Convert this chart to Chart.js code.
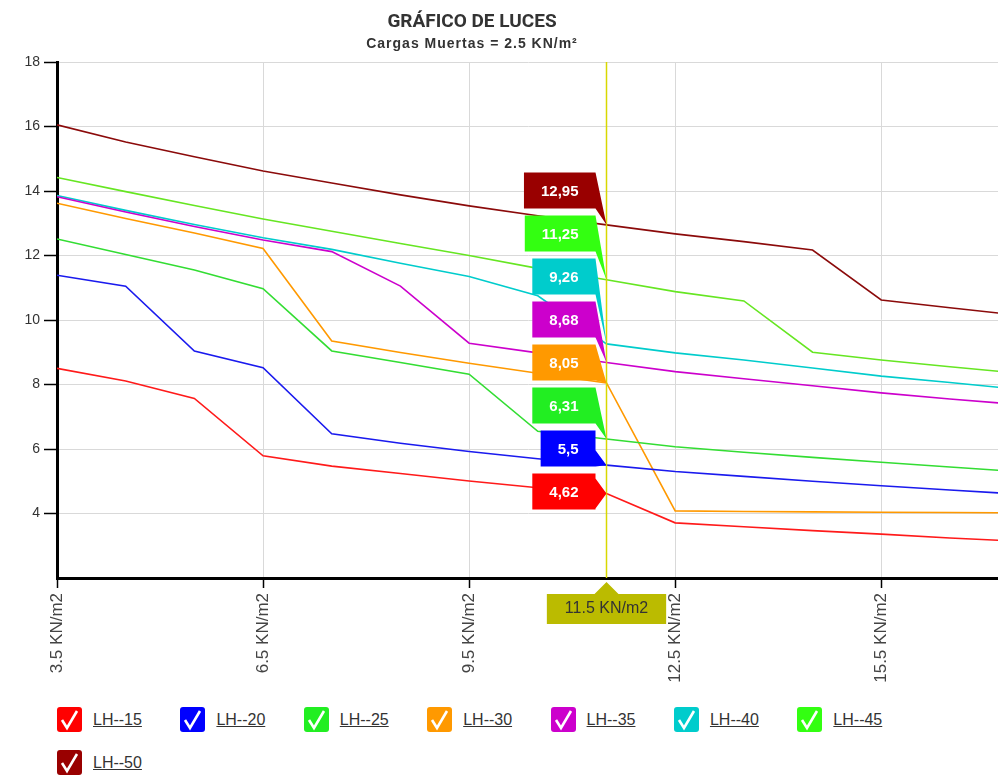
<!DOCTYPE html>
<html lang="es">
<head>
<meta charset="utf-8">
<title>Gráfico de luces</title>
<script src="https://cdn.jsdelivr.net/npm/chart.js@4.4.1/dist/chart.umd.min.js"></script>
<style>
  body { margin: 0; background: #fff; overflow: hidden; font-family: "Liberation Sans", Arial, sans-serif; }
  #wrap { position: relative; width: 998px; height: 776px; }
  #chart { position: absolute; left: 0; top: 0; }
  #title { position: absolute; left: 0; top: 9px; width: 944px; text-align: center;
           font: bold 19px Roboto, "Liberation Sans", sans-serif; color: #333; }
  #subtitle { position: absolute; left: 0; top: 35px; width: 944px; text-align: center;
              font-weight: bold; font-size: 14px; letter-spacing: 1px; color: #333; }
  #legend { position: absolute; left: 57px; top: 707px; width: 880px; display: flex; flex-wrap: wrap; }
  .item { width: 123.4px; height: 43px; display: flex; align-items: flex-start; }
  .box { width: 25px; height: 25px; border-radius: 3px; }
  .item span { margin-left: 11px; font-size: 16px; line-height: 25px; text-decoration: underline; color: #333; }
</style>
</head>
<body>
<div id="wrap">
  <canvas id="chart" width="998" height="700"></canvas>
  <div id="title"></div>
  <div id="subtitle"></div>
  <div id="legend"></div>
</div>
<script>
// ---------- Data ----------
const chartTitle = "GRÁFICO DE LUCES";
const chartSubtitle = "Cargas Muertas = 2.5 KN/m²";

// live load (KN/m2)
const loads = [3.5, 4.5, 5.5, 6.5, 7.5, 8.5, 9.5, 10.5, 11.5, 12.5, 13.5, 14.5, 15.5, 16.5, 17.5];
const crossLoad = 11.5;

const seriesNames = ["LH--15", "LH--20", "LH--25", "LH--30", "LH--35", "LH--40", "LH--45", "LH--50"];

// spans (m)
const lh15 = [8.50, 8.11, 7.57, 5.79, 5.47, 5.24, 5.01, 4.80, 4.62, 3.71, 3.59, 3.47, 3.36, 3.24, 3.14];
const lh20 = [11.39, 11.05, 9.04, 8.52, 6.47, 6.18, 5.92, 5.70, 5.50, 5.30, 5.15, 5.00, 4.86, 4.73, 4.60];
const lh25 = [12.51, 12.03, 11.55, 10.97, 9.04, 8.68, 8.32, 6.55, 6.31, 6.07, 5.90, 5.74, 5.59, 5.44, 5.30];
const lh30 = [13.62, 13.15, 12.70, 12.22, 9.35, 8.99, 8.66, 8.35, 8.05, 4.08, 4.06, 4.05, 4.04, 4.03, 4.02];
const lh35 = [13.82, 13.35, 12.90, 12.48, 12.12, 11.05, 9.28, 8.98, 8.68, 8.40, 8.18, 7.96, 7.74, 7.55, 7.38];
const lh40 = [13.86, 13.40, 12.96, 12.55, 12.19, 11.76, 11.35, 10.75, 9.26, 8.98, 8.76, 8.51, 8.26, 8.06, 7.85];
const lh45 = [14.42, 13.98, 13.55, 13.13, 12.75, 12.37, 12.00, 11.60, 11.25, 10.88, 10.59, 9.00, 8.76, 8.55, 8.35];
const lh50 = [16.05, 15.52, 15.06, 14.62, 14.25, 13.88, 13.54, 13.23, 12.95, 12.67, 12.43, 12.17, 10.62, 10.38, 10.15];

const seriesValues = [lh15, lh20, lh25, lh30, lh35, lh40, lh45, lh50];

const xTickValues = [3.5, 6.5, 9.5, 12.5, 15.5];
const yTickValues = [4, 6, 8, 10, 12, 14, 16, 18];

// colours
const lineColors = ["#ff1a1a", "#1a1aee", "#33dd33", "#ff9900", "#cc00cc", "#00cccc", "#66e622", "#8b0a0a"];
const markColors = ["#ff0000", "#0000ff", "#22ee22", "#ff9900", "#cc00cc", "#00cccc", "#33ff11", "#990000"];

const FONT = '"Liberation Sans", Arial, sans-serif';

// ---------- Title + legend (html) ----------
document.getElementById("title").textContent = chartTitle;
document.getElementById("subtitle").textContent = chartSubtitle;

const legend = document.getElementById("legend");
seriesNames.forEach((name, i) => {
  const item = document.createElement("div");
  item.className = "item";
  item.innerHTML =
    '<div class="box" style="background:' + markColors[i] + '">' +
    '<svg width="25" height="25"><polyline points="5,13 10,21 20,4" fill="none" stroke="#fff" stroke-width="2.6"/></svg>' +
    '</div><span>' + name + '</span>';
  legend.appendChild(item);
});

// ---------- Crosshair + value labels ----------
// merge overlapping labels into groups centred on their targets
function distribute(targets, size) {
  let groups = targets.map(t => ({ sum: t, n: 1 }));
  let changed = true;
  while (changed) {
    changed = false;
    for (let i = 1; i < groups.length; i++) {
      const a = groups[i - 1], b = groups[i];
      const aStart = a.sum / a.n - (a.n - 1) * size / 2;
      const bStart = b.sum / b.n - (b.n - 1) * size / 2;
      if (aStart + a.n * size > bStart) {
        a.sum += b.sum;
        a.n += b.n;
        groups.splice(i, 1);
        changed = true;
        break;
      }
    }
  }
  const out = [];
  groups.forEach(g => {
    const start = g.sum / g.n - (g.n - 1) * size / 2;
    for (let k = 0; k < g.n; k++) out.push(start + k * size);
  });
  return out;
}

const crossPlugin = {
  id: "crossLabels",
  afterDatasetsDraw(chart) {
    const { ctx, chartArea: area, scales: { x, y } } = chart;
    const px = Math.round(x.getPixelForValue(crossLoad)) + 0.5;
    const idx = loads.indexOf(crossLoad);
    ctx.save();

    // vertical crosshair
    ctx.strokeStyle = "#d8d800";
    ctx.lineWidth = 1.5;
    ctx.beginPath();
    ctx.moveTo(px, area.top);
    ctx.lineTo(px, area.bottom);
    ctx.stroke();

    // x value flag under the axis
    ctx.font = "16px " + FONT;
    const xText = crossLoad + " KN/m2";
    const xw = ctx.measureText(xText).width + 36;
    const ft = area.bottom + 16, fh = 30;
    ctx.fillStyle = "#bbbb00";
    ctx.beginPath();
    ctx.moveTo(px - xw / 2, ft);
    ctx.lineTo(px - 12, ft);
    ctx.lineTo(px, ft - 12);
    ctx.lineTo(px + 12, ft);
    ctx.lineTo(px + xw / 2, ft);
    ctx.lineTo(px + xw / 2, ft + fh);
    ctx.lineTo(px - xw / 2, ft + fh);
    ctx.closePath();
    ctx.fill();
    ctx.fillStyle = "#333";
    ctx.textAlign = "center";
    ctx.textBaseline = "middle";
    ctx.fillText(xText, px, ft + fh / 2);

    // series value boxes
    const items = seriesValues.map((vals, i) => {
      const v = vals[idx];
      return { v, py: y.getPixelForValue(v), color: markColors[i] };
    }).sort((a, b) => a.py - b.py);

    const boxH = 36, gap = 7, labelLift = 33;
    const centers = distribute(items.map(it => it.py - labelLift), boxH + gap);

    ctx.font = "bold 15px " + FONT;
    items.forEach((it, k) => {
      const text = String(it.v).replace(".", ",");
      const w = ctx.measureText(text).width + 34;
      const c = centers[k];
      const top = c - boxH / 2, bottom = c + boxH / 2;
      const right = px - 11, left = right - w;

      ctx.fillStyle = it.color;
      ctx.beginPath();
      ctx.moveTo(left, top);
      ctx.lineTo(right, top);
      if (it.py > top && it.py < bottom) {
        ctx.lineTo(right, Math.max(top, it.py - 15));
        ctx.lineTo(px, it.py);
        ctx.lineTo(right, Math.min(bottom, it.py + 15));
      } else {
        ctx.lineTo(px, it.py);
      }
      ctx.lineTo(right, bottom);
      ctx.lineTo(left, bottom);
      ctx.closePath();
      ctx.fill();

      ctx.fillStyle = "#fff";
      ctx.fillText(text, left + w / 2, c + 1);
    });

    ctx.restore();
  }
};

// ---------- Chart ----------
const datasets = seriesNames.map((name, i) => ({
  label: name,
  data: loads.map((l, j) => ({ x: l, y: seriesValues[i][j] })),
  borderColor: lineColors[i],
  backgroundColor: lineColors[i],
  borderWidth: 1.6,
  pointRadius: 0,
  tension: 0
}));

new Chart(document.getElementById("chart"), {
  type: "line",
  data: { datasets },
  plugins: [crossPlugin],
  options: {
    responsive: false,
    animation: false,
    devicePixelRatio: 1,
    layout: { padding: { top: 62, left: 0, right: 0, bottom: 0 } },
    plugins: {
      legend: { display: false },
      tooltip: { enabled: false },
      title: { display: false }
    },
    scales: {
      x: {
        type: "linear",
        min: 3.5,
        max: 17.2,
        afterBuildTicks: s => { s.ticks = xTickValues.map(v => ({ value: v })); },
        afterFit: s => { s.height = 122; },
        ticks: {
          autoSkip: false,
          minRotation: 90,
          maxRotation: 90,
          padding: 5,
          color: "#444",
          font: { family: FONT, size: 17 },
          callback: v => v + " KN/m2"
        },
        grid: { color: "#d9d9d9", tickColor: "#000", tickLength: 10, tickWidth: 1.5 },
        border: { color: "#000", width: 3 }
      },
      y: {
        min: 2,
        max: 18,
        afterBuildTicks: s => { s.ticks = yTickValues.map(v => ({ value: v })); },
        afterFit: s => { s.width = 57; },
        ticks: {
          padding: 4,
          color: "#333",
          font: { family: FONT, size: 14 }
        },
        grid: { color: "#d9d9d9", tickColor: "#000", tickLength: 13, tickWidth: 1.5 },
        border: { color: "#000", width: 3 }
      }
    }
  }
});
</script>
</body>
</html>
